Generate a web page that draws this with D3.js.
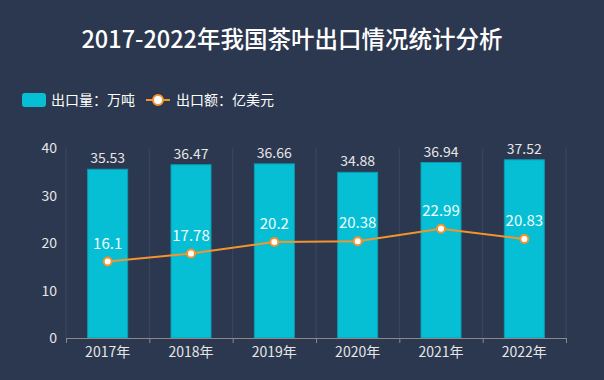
<!DOCTYPE html>
<html><head><meta charset="utf-8">
<script src="https://cdn.jsdelivr.net/npm/d3@7"></script>
<style>body{margin:0;background:#2b3850;}svg{display:block;font-family:"Noto Sans CJK SC","Noto Sans",sans-serif;}</style>
</head><body><svg id="c" width="604" height="380"></svg>
<script>
const categories = ["2017年","2018年","2019年","2020年","2021年","2022年"];
const volume = [35.53,36.47,36.66,34.88,36.94,37.52];
const value = [16.1,17.78,20.2,20.38,22.99,20.83];
const yTicks = [0,10,20,30,40];
const title = "2017-2022年我国茶叶出口情况统计分析";
const legendNames = ["出口量：万吨","出口额：亿美元"];

const svg = d3.select("#c");
svg.append("rect").attr("width",604).attr("height",380).attr("fill","#2b3850");
const m = {l:66, r:566, t:148, b:338};
const x = d3.scaleBand().domain(categories).range([m.l,m.r]);
const y = d3.scaleLinear().domain([0,40]).range([m.b,m.t]);

svg.append("text").attr("x",292).attr("y",48).attr("text-anchor","middle")
  .attr("fill","#fff").attr("font-size",23.5).attr("font-weight",500).text(title);

// legend
const lg = svg.append("g");
lg.append("rect").attr("x",22).attr("y",93).attr("width",24).attr("height",14).attr("rx",3).attr("fill","#06bfd4");
lg.append("text").attr("x",51).attr("y",105).attr("fill","#fff").attr("font-size",14).text(legendNames[0]);
lg.append("line").attr("x1",146).attr("x2",170).attr("y1",100).attr("y2",100).attr("stroke","#f7932b").attr("stroke-width",2);
lg.append("circle").attr("cx",158).attr("cy",100).attr("r",5).attr("fill","#fff").attr("stroke","#f7932b").attr("stroke-width",2);
lg.append("text").attr("x",176).attr("y",105).attr("fill","#fff").attr("font-size",14).text(legendNames[1]);

// split lines
const bounds = categories.map(c=>x(c)).concat([m.r]);
svg.selectAll(".split").data(bounds).enter().append("line")
  .attr("x1",d=>d).attr("x2",d=>d).attr("y1",m.t).attr("y2",m.b)
  .attr("stroke","#3a4862").attr("stroke-width",1);

// y axis labels
svg.selectAll(".yl").data(yTicks).enter().append("text")
  .attr("x",57).attr("y",d=>y(d)+5).attr("text-anchor","end")
  .attr("fill","#e6e6e6").attr("font-size",14).text(d=>d);

// bars
const bw = x.bandwidth()*0.48;
svg.selectAll(".bar").data(volume).enter().append("rect")
  .attr("x",(d,i)=>x(categories[i])+x.bandwidth()/2-bw/2).attr("width",bw)
  .attr("y",d=>y(d)).attr("height",d=>m.b-y(d))
  .attr("fill","#06bfd4").attr("stroke","#0a9cb3").attr("stroke-width",1);
svg.selectAll(".bl").data(volume).enter().append("text")
  .attr("x",(d,i)=>x(categories[i])+x.bandwidth()/2).attr("y",d=>y(d)-6)
  .attr("text-anchor","middle").attr("fill","#e6e6e6").attr("font-size",14).text(d=>d);

// x axis
svg.append("line").attr("x1",m.l).attr("x2",m.r).attr("y1",m.b+0.5).attr("y2",m.b+0.5).attr("stroke","#8a8a8a");
svg.selectAll(".tick").data(bounds).enter().append("line")
  .attr("x1",d=>d+0.5).attr("x2",d=>d+0.5).attr("y1",m.b).attr("y2",m.b+5).attr("stroke","#8a8a8a");
svg.selectAll(".xl").data(categories).enter().append("text")
  .attr("x",d=>x(d)+x.bandwidth()/2).attr("y",357).attr("text-anchor","middle")
  .attr("fill","#e6e6e6").attr("font-size",14).text(d=>d);

// line
const cx = (d,i)=>x(categories[i])+x.bandwidth()/2;
const line = d3.line().x(cx).y(d=>y(d));
svg.append("path").datum(value).attr("d",line).attr("fill","none").attr("stroke","#f7932b").attr("stroke-width",2);
svg.selectAll(".pt").data(value).enter().append("circle")
  .attr("cx",cx).attr("cy",d=>y(d)).attr("r",4).attr("fill","#fff").attr("stroke","#f7932b").attr("stroke-width",2);
svg.selectAll(".pl").data(value).enter().append("text")
  .attr("x",cx).attr("y",d=>y(d)-13).attr("text-anchor","middle")
  .attr("fill","#effcff").attr("font-size",15).text(d=>d);
</script></body></html>
